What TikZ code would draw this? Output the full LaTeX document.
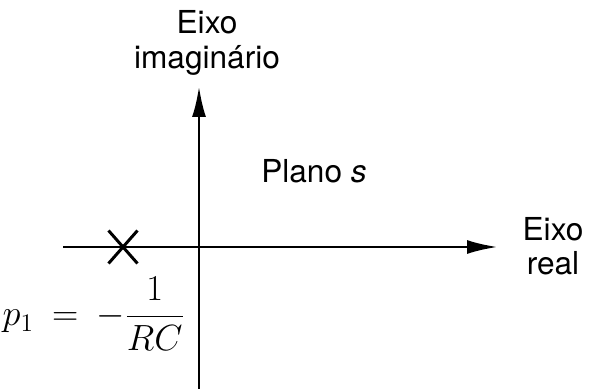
\documentclass[tikz,border=0pt]{standalone}
\usepackage{fontspec}
\newfontfamily\axisfont{TeX Gyre Heros}
\usetikzlibrary{arrows.meta,shapes.misc}

\tikzset{
  axis/.style={line width=1.7pt, -{Latex[length=0.62cm, width=0.28cm]}},
  axislabel/.style={font=\axisfont\fontsize{18}{19.5}\selectfont, align=center, inner sep=0pt},
  pole/.style={draw, cross out, line width=1.7pt, minimum width=0.52cm, minimum height=0.6cm, inner sep=0pt}
}

\begin{document}
\begin{tikzpicture}[x=0.02cm, y=-0.02cm]
  \useasboundingbox (0,0) rectangle (590,388);

  %--- axes ---
  \coordinate (origin) at (199,247);
  \coordinate (xstart) at (63,247);
  \coordinate (xend) at (498,247);
  \coordinate (ystart) at (199,390);
  \coordinate (yend) at (199,86);

  \draw[axis] (xstart) -- (xend);
  \draw[axis] (ystart) -- (yend);

  %--- pole ---
  \node[pole] (p1) at (123,247) {};

  %--- labels ---
  \node[axislabel] (imlabel) at (207,43) {Eixo\\imaginário};
  \node[axislabel] (relabel) at (553,246) {Eixo\\real};
  \node[axislabel, anchor=base] (plane) at (314,182) {Plano \textit{s}};
  \node[inner sep=0pt, anchor=east, font=\fontsize{20}{23}\selectfont] (polevalue) at (185,314)
    {$\displaystyle p_1 \:=\: -\frac{1}{RC}$};
\end{tikzpicture}
\end{document}
